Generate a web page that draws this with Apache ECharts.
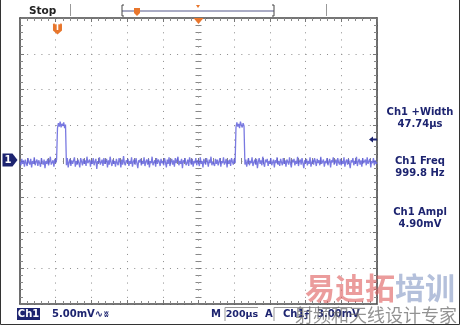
<!DOCTYPE html>
<html><head><meta charset="utf-8">
<script src="https://cdn.jsdelivr.net/npm/echarts@6/dist/echarts.min.js"></script>
<style>html,body{margin:0;padding:0;background:#fff}#c{width:460px;height:325px}</style>
</head><body><div id="c"></div>
<script>
// ---- data ----
const timeStartUs = 0;          // left edge of screen
const sampleIntervalUs = 5;     // record sample spacing
const timeSpanUs = 2000;        // 10 div x 200 us
const timePerDivUs = 200;
const voltsPerDivmV = 5;
const screenMinmV = -20, screenMaxmV = 20;
const triggerTimeUs = 210;
const triggerLevelmV = 3.0;
const expansionPointUs = 1000;
const ch1mV = [
-0.1,-0.6,0.3,-0.4,0.1,-0.8,0.2,-0.3,-0.7,0.4,-0.2,-0.5,0.3,-0.9,0.0,-0.4,0.5,-0.6,-0.1,0.2,
-0.7,0.1,-0.3,-0.8,0.4,-0.2,-0.5,0.2,-1.0,0.0,-0.4,0.3,-0.6,-0.1,0.6,-0.5,-0.2,0.1,-0.8,0.3,
-0.3,0.2,4.6,5.3,4.8,5.5,4.7,5.2,4.9,5.4,4.6,5.1,-0.6,0.4,-0.9,-0.2,0.3,-0.7,0.1,-0.4,
-0.2,0.5,-0.8,0.0,-0.5,0.2,-0.3,-0.9,0.4,-0.1,-0.6,0.3,-0.4,0.1,-0.7,0.6,-0.3,-0.5,0.2,-0.8,
0.1,-0.4,0.4,-0.6,-0.1,0.3,-1.1,0.0,-0.3,0.5,-0.5,-0.2,0.2,-0.7,0.4,-0.4,-0.1,0.3,-0.9,0.1,
-0.5,0.6,-0.2,-0.7,0.2,-0.4,0.0,-0.8,0.3,-0.3,-0.6,0.4,-0.1,-0.9,0.2,-0.5,0.7,-0.3,-0.6,0.1,
-0.2,0.3,-0.7,0.0,-0.4,0.5,-0.8,-0.1,0.2,-0.5,0.4,-0.3,-1.0,0.1,-0.2,0.3,-0.6,0.0,-0.4,0.5,
-0.7,-0.1,0.2,-0.5,0.3,-0.9,0.0,-0.3,0.6,-0.6,-0.2,0.1,-0.8,0.4,-0.4,0.2,-0.1,-0.7,0.3,-0.3,
0.0,-0.6,0.4,-0.2,-0.9,0.2,-0.4,0.5,-0.7,-0.1,0.3,-0.5,0.1,-0.8,0.4,-0.3,-0.1,0.6,-0.6,0.0,
-0.4,0.3,-1.0,0.1,-0.2,0.4,-0.6,-0.3,0.2,-0.7,0.5,-0.1,-0.5,0.3,-0.8,0.0,-0.3,0.4,-0.6,0.1,
-0.2,-0.7,0.5,-0.4,0.0,-0.9,0.3,-0.2,-0.5,0.4,-0.1,-0.8,0.2,-0.3,0.6,-0.6,-0.1,0.1,-0.7,0.3,
-0.4,0.2,-0.6,-0.1,0.4,-0.8,0.0,-0.3,0.5,-0.5,-0.2,0.3,-0.9,0.1,-0.4,0.2,-0.7,0.4,-0.1,-0.5,
0.3,-0.3,4.7,5.4,4.8,5.2,4.6,5.5,5.0,4.7,5.3,4.9,-0.5,0.2,-0.8,-0.1,0.4,-0.6,0.0,-0.3,
0.5,-0.7,-0.2,0.2,-0.5,0.3,-1.0,-0.1,0.4,-0.4,0.1,-0.6,0.6,-0.3,-0.8,0.2,-0.2,0.3,-0.7,0.0,
-0.4,0.4,-0.6,-0.2,0.2,-0.9,0.1,-0.3,0.5,-0.5,0.0,-0.7,0.3,-0.2,-0.6,0.4,-0.4,0.1,-0.8,0.2,
-0.1,-0.5,0.5,-0.3,-0.9,0.2,-0.2,0.3,-0.6,0.0,-0.4,0.6,-0.7,-0.1,0.2,-0.5,0.4,-0.3,-1.0,0.1,
-0.3,0.3,-0.6,0.0,-0.4,0.5,-0.8,-0.2,0.2,-0.5,0.4,-0.1,-0.7,0.3,-0.3,0.1,-0.6,0.6,-0.4,-0.1,
0.2,-0.8,0.0,-0.3,0.4,-0.6,-0.1,0.3,-0.9,0.1,-0.2,0.5,-0.5,-0.3,0.2,-0.7,0.4,-0.2,-0.5,0.3,
-0.6,0.0,-0.4,0.5,-0.8,-0.1,0.2,-0.5,0.3,-0.3,-1.0,0.1,-0.2,0.4,-0.6,0.0,-0.4,0.6,-0.7,-0.1,
0.3,-0.5,0.1,-0.8,0.4,-0.3,-0.1,0.2,-0.6,0.5,-0.4,-0.2,0.3,-0.9,0.0,-0.3,0.4,-0.6,0.1,-0.4,
-0.2
];
const measNames = ['Ch1 +Width', 'Ch1 Freq', 'Ch1 Ampl'];
const measValues = ['47.74µs', '999.8 Hz', '4.90mV'];
const statusText = {state:'Stop', chan:'Ch1', scale:'5.00mV', time:'200µs', trigSrc:'Ch1', trigLevel:'3.00mV'};
const watermark1 = '易迪拓', watermark2 = '培训', watermark3 = '射频和天线设计专家';

// ---- chart ----
const ch1Data = ch1mV.map((v, i) => [timeStartUs + i * sampleIntervalUs, v]);
const navy = '#1d2470', orange = '#e8762c', frameCol = '#4a4a4a', dotCol = '#8c8c8c';
const F = '"DejaVu Sans", Verdana, sans-serif';

const base = {axisLabel:{show:false}, splitLine:{show:false}, axisLine:{show:false, onZero:false}, axisTick:{show:false}, minorTick:{show:false}};
function mk(o){ return Object.assign({}, base, o); }
const xCommon = {type:'value', min:timeStartUs, max:timeStartUs+timeSpanUs, interval:timePerDivUs};
const yCommon = {type:'value', min:screenMinmV, max:screenMaxmV, interval:voltsPerDivmV};
const frameLine = {show:true, onZero:false, lineStyle:{color:frameCol, width:1.6}};
const tickIn = {show:true, inside:true, length:4, lineStyle:{color:'#777'}};
const tickOut = {show:true, inside:false, length:3, lineStyle:{color:'#888'}};
const minor = {show:true, splitNumber:5, length:3, lineStyle:{color:'#888'}};
function T(x, y, text, font, fill, align, extra){
  return Object.assign({type:'text', x:x, y:y, style:{text:text, font:font, fill:fill, textAlign:align||'left', textVerticalAlign:'middle', verticalAlign:'middle'}}, extra||{});
}

const option = {
  animation:false,
  backgroundColor:'#fff',
  grid:{left:20, top:18, width:357, height:286, containLabel:false},
  xAxis:[
    mk(Object.assign({}, xCommon, {position:'bottom', axisLine:frameLine, axisTick:tickIn, minorTick:minor,
      splitLine:{show:true, lineStyle:{color:dotCol, width:1, type:[1,6.15]}}})),
    mk(Object.assign({}, xCommon, {position:'top', axisLine:frameLine, axisTick:tickIn, minorTick:minor})),
    mk(Object.assign({}, xCommon, {position:'bottom', offset:-143, axisTick:Object.assign({}, tickIn, {length:3}), minorTick:minor})),
    mk(Object.assign({}, xCommon, {position:'bottom', offset:-143, axisTick:tickOut, minorTick:minor}))
  ],
  yAxis:[
    mk(Object.assign({}, yCommon, {position:'left', axisLine:frameLine, axisTick:tickIn, minorTick:minor,
      splitLine:{show:true, lineStyle:{color:dotCol, width:1, type:[1,6.14]}}})),
    mk(Object.assign({}, yCommon, {position:'right', axisLine:frameLine, axisTick:tickIn, minorTick:minor})),
    mk(Object.assign({}, yCommon, {position:'left', offset:-178.5, axisTick:Object.assign({}, tickIn, {length:3}), minorTick:minor})),
    mk(Object.assign({}, yCommon, {position:'left', offset:-178.5, axisTick:tickOut, minorTick:minor}))
  ],
  series:[{
    type:'line', xAxisIndex:0, yAxisIndex:0, data:ch1Data, showSymbol:false, symbol:'none',
    lineStyle:{color:'#6262dc', width:1.3, opacity:0.85}, z:5,
    markPoint:{
      silent:true, label:{show:false},
      data:[
        {coord:[expansionPointUs, screenMaxmV], symbol:'triangle', symbolRotate:180, symbolSize:[10,6], symbolOffset:[0,3], itemStyle:{color:orange}},
        {coord:[triggerTimeUs, screenMaxmV], symbol:'path://M1,0 L9,0 Q10,0 10,1 L10,7 L5,11 L0,7 L0,1 Q0,0 1,0 Z', symbolSize:[9,11], symbolOffset:[0,11], itemStyle:{color:orange},
          label:{show:true, formatter:'T', color:'#fff', fontSize:8, fontWeight:'bold', fontFamily:F, offset:[0,-1]}},
        {coord:[timeStartUs+timeSpanUs, triggerLevelmV], symbol:'path://M0,3 L4,0 L4,2 L8,2 L8,4 L4,4 L4,6 Z', symbolSize:[8,6], symbolOffset:[-4,0], itemStyle:{color:navy}},
        {coord:[timeStartUs, 0], symbol:'path://M0,0 L10,0 L15,6 L10,12 L0,12 Z', symbolSize:[15,13], symbolOffset:[-10,-1], itemStyle:{color:navy},
          label:{show:true, formatter:'1', color:'#fff', fontSize:10, fontWeight:'bold', fontFamily:F, offset:[-2,0]}}
      ]
    }
  }],
  graphic:[
    {type:'polyline', silent:true, shape:{points:[[0.5,0],[0.5,324.5],[459.5,324.5],[459.5,0]]}, style:{stroke:'#333', fill:null, lineWidth:1}},
    T(29, 11, statusText.state, 'bold 10.5px '+F, '#222'),
    {type:'line', shape:{x1:70.5,y1:4,x2:70.5,y2:16}, style:{stroke:'#999', lineWidth:1}},
    {type:'line', shape:{x1:326.5,y1:4,x2:326.5,y2:16}, style:{stroke:'#999', lineWidth:1}},
    {type:'line', shape:{x1:122,y1:11,x2:274,y2:11}, style:{stroke:'#55588a', lineWidth:1.2}},
    {type:'polyline', shape:{points:[[124,5],[122,5],[122,16],[124,16]]}, style:{stroke:'#444', fill:null, lineWidth:1}},
    {type:'polyline', shape:{points:[[272,5],[274,5],[274,16],[272,16]]}, style:{stroke:'#444', fill:null, lineWidth:1}},
    {type:'polygon', shape:{points:[[196,5],[200,5],[198,8]]}, style:{fill:orange}},
    {type:'polygon', shape:{points:[[134,8],[140,8],[140,13],[137,16],[134,13]]}, style:{fill:orange}},
    T(420, 112, measNames[0], 'bold 10px '+F, navy, 'center'),
    T(420, 124, measValues[0], 'bold 10px '+F, navy, 'center'),
    T(420, 161, measNames[1], 'bold 10px '+F, navy, 'center'),
    T(420, 173, measValues[1], 'bold 10px '+F, navy, 'center'),
    T(420, 212, measNames[2], 'bold 10px '+F, navy, 'center'),
    T(420, 224, measValues[2], 'bold 10px '+F, navy, 'center'),
    {type:'rect', shape:{x:17,y:308,width:23,height:12}, style:{fill:navy}},
    T(28.5, 314.5, statusText.chan, 'bold 10px '+F, '#fff', 'center'),
    T(52, 314.5, statusText.scale+'∿', 'bold 10px '+F, navy),
    T(104, 314.5, 'ʬ', 'bold 8px '+F, navy),
    T(211, 314.5, 'M', 'bold 10px '+F, navy),
    {type:'polyline', shape:{points:[[225,321],[225,307.5],[258,307.5]]}, style:{stroke:'#999', fill:null, lineWidth:1}},
    T(242, 314.5, statusText.time, 'bold 9.5px '+F, navy, 'center'),
    T(265, 314.5, 'A', 'bold 10px '+F, navy),
    {type:'polyline', shape:{points:[[274,321],[274,307.5],[352,307.5]]}, style:{stroke:'#999', fill:null, lineWidth:1}},
    T(283, 314.5, statusText.trigSrc, 'bold 10px '+F, navy),
    T(304, 314.5, '⨍', 'bold 10px '+F, navy),
    T(317, 314.5, statusText.trigLevel, 'bold 10px '+F, navy),
    T(305, 288, watermark1, 'bold 30px "Noto Sans CJK SC"', 'rgba(222,90,90,0.6)', 'left', {z:100}),
    T(395, 288, watermark2, 'bold 30px "Noto Sans CJK SC"', 'rgba(130,150,195,0.6)', 'left', {z:100}),
    T(295, 315, watermark3, '18px "Noto Sans CJK SC"', 'rgba(110,110,110,0.75)', 'left', {z:100})
  ]
};
const chart = echarts.init(document.getElementById('c'), null, {renderer:'canvas'});
chart.setOption(option);
</script></body></html>
